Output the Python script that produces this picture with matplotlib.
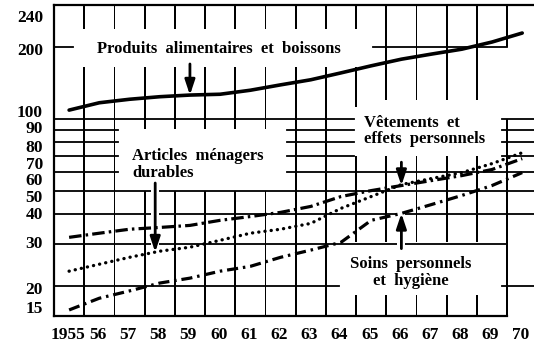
import numpy as np
import matplotlib.pyplot as plt
from matplotlib.patches import Rectangle
from matplotlib.ticker import FixedLocator, FixedFormatter, NullLocator

plt.rcParams['lines.scale_dashes'] = False

# consommation par poste, 1955-1970 (echelle log)
annees = np.arange(1955, 1971)
etiquettes_x = ['1955'] + ['%02d' % (a % 100) for a in annees[1:]]

alimentation = [109, 117, 121, 124, 126, 127, 132, 139, 146, 156, 167, 178, 187, 196, 210, 229]
vetements = [32.0, 33.3, 34.6, 35.2, 35.9, 37.7, 39.1, 40.7, 43.1, 47.4, 50.2, 52.7, 55.3, 58.0, 61.5, 68.3]
menagers = [23.1, 24.7, 26.4, 28.0, 29.1, 31.1, 33.3, 34.6, 36.6, 42.3, 47.4, 53.2, 56.4, 59.7, 65.1, 72.3]
soins = [15.9, 17.8, 19.1, 20.6, 21.6, 23.1, 24.2, 26.4, 28.3, 30.5, 37.7, 40.3, 43.9, 47.9, 52.7, 59.7]

etiquettes_y = ['15', '20', '30', '40', '50', '60', '70', '80', '90', '100', '200', '240']
# hauteur des chiffres de l'echelle, espaces a la main comme sur l'original
pos_etiquettes_y = [16.4, 19.7, 30.6, 40.3, 47.5, 55.9, 65.6, 77.0, 92.8, 108, 196, 271]

BAS, HAUT = 15, 300
XMAX = 1970.89

# quadrillage interrompu autour des textes
verticales = [
    (1956, [(BAS, 165), (238, HAUT)]),
    (1957, [(BAS, 165), (238, HAUT)]),
    (1958, [(BAS, 50), (91, 165), (238, HAUT)]),
    (1959, [(BAS, 50), (91, 165), (238, HAUT)]),
    (1960, [(BAS, 50), (91, 165), (238, HAUT)]),
    (1961, [(BAS, 50), (91, 165), (238, HAUT)]),
    (1962, [(BAS, 50), (91, 165), (238, HAUT)]),
    (1963, [(BAS, 165), (238, HAUT)]),
    (1964, [(BAS, 165), (238, HAUT)]),
    (1965, [(BAS, 18.4), (30.5, 70), (112, 165), (238, HAUT)]),
    (1966, [(BAS, 18.4), (30.5, 70), (120, HAUT)]),
    (1967, [(BAS, 18.4), (30.5, 70), (120, HAUT)]),
    (1968, [(BAS, 18.4), (30.5, 70), (120, HAUT)]),
    (1969, [(BAS, 18.4), (30.5, 70), (120, HAUT)]),
    (1970, [(BAS, 100), (200, HAUT)]),
]
horizontales = [
    (200, [(1955, 1955.63), (1965.56, 1970)]),
    (100, [(1955, 1964.93), (1969.83, XMAX)]),
    (90, [(1955, 1957.12), (1962.72, 1964.93), (1969.83, XMAX)]),
    (80, [(1955, 1957.12), (1962.72, 1964.93), (1969.83, XMAX)]),
    (70, [(1955, 1957.12), (1962.72, 1964.93), (1969.83, XMAX)]),
    (60, [(1955, 1957.12), (1962.72, XMAX)]),
    (50, [(1955, XMAX)]),
    (40, [(1955, XMAX)]),
    (30, [(1955, 1970)]),
    (20, [(1955, 1964.44), (1969.83, XMAX)]),
]

fig = plt.figure(figsize=(5.34, 3.46), dpi=100)
ax = fig.add_axes([54 / 534, 30 / 346, 480 / 534, 311 / 346])
ax.set_yscale('log')
ax.set_xlim(1955, XMAX)
ax.set_ylim(BAS, HAUT)

# traits verticaux en fines bandes pleines (largeur ~2 px)
ep = 0.06
for x, morceaux in verticales:
    for y0, y1 in morceaux:
        ax.add_patch(Rectangle((x - ep / 2, y0), ep, y1 - y0, facecolor='black',
                               edgecolor='none', zorder=1.5))
for y, morceaux in horizontales:
    for x0, x1 in morceaux:
        ax.plot([x0, x1], [y, y], color='black', lw=1.3, zorder=1.5)

xs = annees + 0.5
ax.plot(xs, alimentation, color='black', lw=2.6, zorder=3, solid_capstyle='round')
ax.plot(xs, vetements, color='black', lw=2.3, zorder=3,
        linestyle=(0, (9, 3, 1.8, 3)))
ax.plot(xs, menagers, color='black', lw=2.4, zorder=3,
        linestyle=(0, (0.1, 4.4)), dash_capstyle='round')
ax.plot(xs, soins, color='black', lw=2.3, zorder=3,
        linestyle=(0, (8, 3.5, 1.8, 3.5)))


def fleche(x, pointe, queue):
    # fond blanc sous la fleche pour couper le quadrillage
    ax.add_patch(Rectangle((x - 0.13, min(pointe, queue)), 0.26, abs(queue - pointe),
                           facecolor='white', edgecolor='none', zorder=1.8))
    ax.annotate('', xy=(x, pointe), xytext=(x, queue), zorder=2,
                arrowprops=dict(arrowstyle='-|>,head_length=0.9,head_width=0.3',
                                lw=2, color='black', shrinkA=0, shrinkB=0))


fleche(xs[4], alimentation[4], 170)
fleche(1958.35, np.interp(1958.35, xs, menagers), 54)
fleche(xs[11], vetements[11], 66)
fleche(xs[11], soins[11], 28.7)

police = dict(family='Liberation Serif', weight='bold', size=12)
ax.text(1960.45, 196, 'Produits  alimentaires  et  boissons', ha='center', va='center', **police)
ax.text(1957.58, 64.6, 'Articles  ménagers\ndurables', ha='left', va='center',
        linespacing=1.05, **police)
ax.text(1965.26, 89, 'Vêtements  et\neffets  personnels', ha='left', va='center',
        linespacing=1.05, **police)
ax.text(1966.82, 22.8, 'Soins  personnels\net  hygiène', ha='center', va='center',
        multialignment='center', linespacing=1.15, **police)

ax.yaxis.set_major_locator(FixedLocator(pos_etiquettes_y))
ax.yaxis.set_major_formatter(FixedFormatter(etiquettes_y))
ax.yaxis.set_minor_locator(NullLocator())
ax.set_xticks(annees + 0.45)
ax.set_xticklabels(etiquettes_x)
ax.tick_params(length=0, labelsize=12.5)
ax.tick_params(axis='y', pad=8)
ax.tick_params(axis='x', pad=8)
for lab in ax.get_xticklabels() + ax.get_yticklabels():
    lab.set_family('Liberation Serif')
    lab.set_weight('bold')

ax.spines['right'].set_visible(False)
ax.spines['bottom'].set_bounds(1955, 1970)
for s in ('left', 'top', 'bottom'):
    ax.spines[s].set_linewidth(1.6)

fig.savefig('out.png', dpi=100)
